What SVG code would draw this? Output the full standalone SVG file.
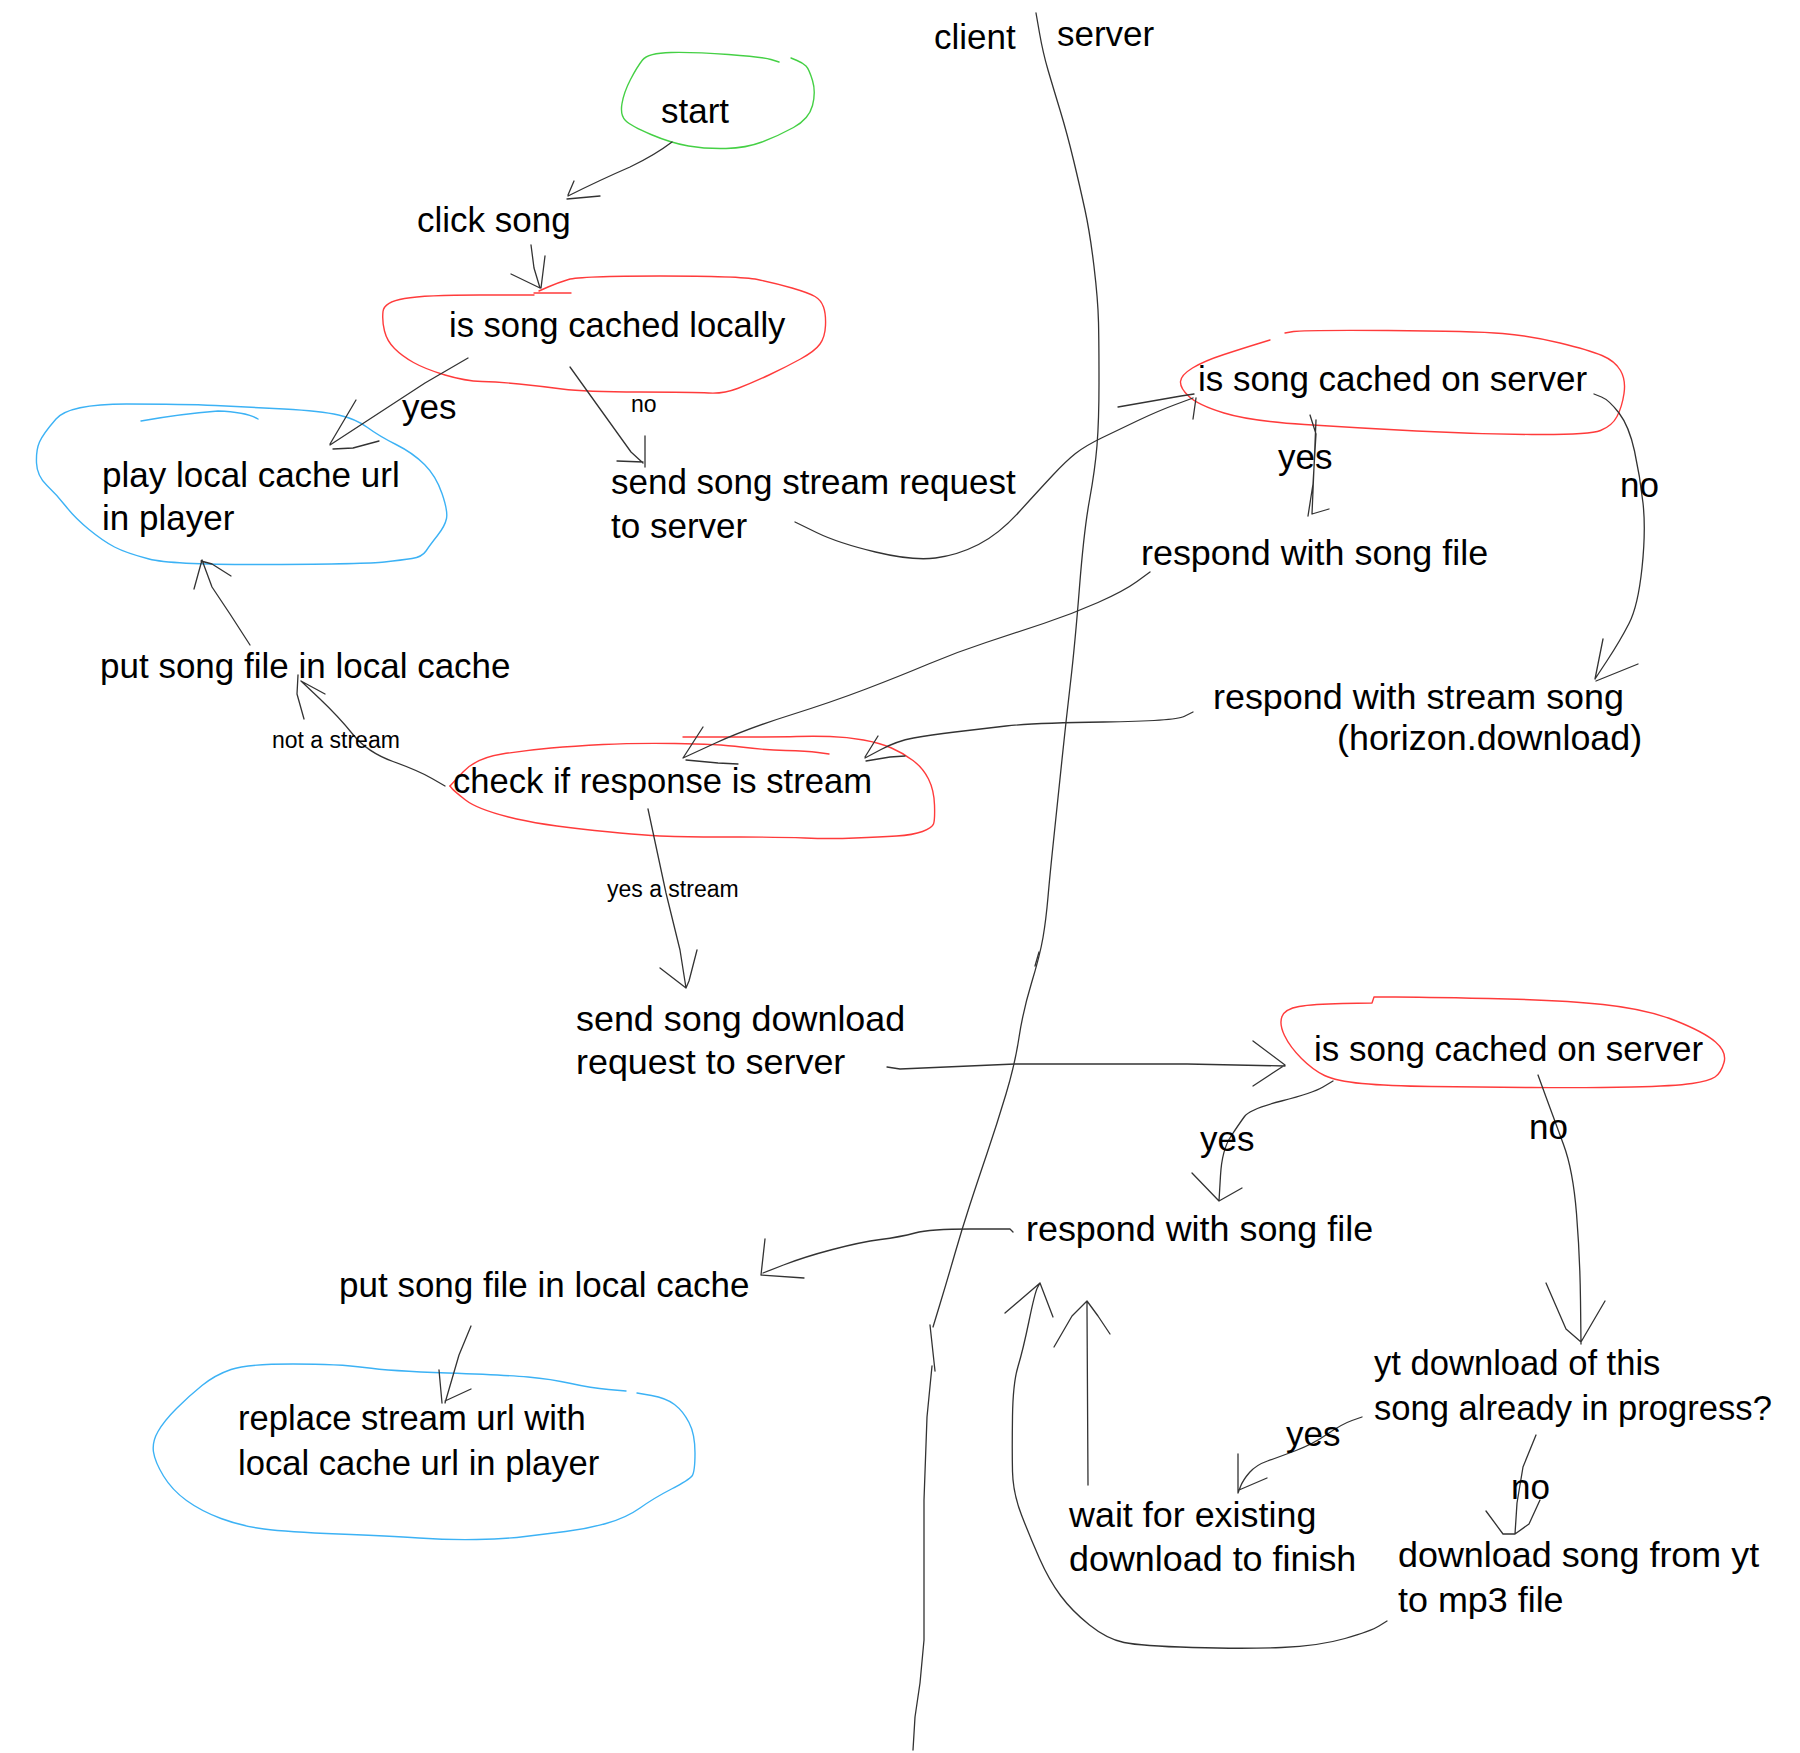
<svg xmlns="http://www.w3.org/2000/svg" width="1800" height="1753" viewBox="0 0 1800 1753">
<style>
.t{font-family:"Liberation Sans",Arial,sans-serif;font-size:35px;fill:#000}
.w{font-size:35.9px}
.n{font-size:34.6px}
.s{font-size:23px}
.c{fill:none;stroke:#333;stroke-width:1.3;stroke-linecap:round;stroke-linejoin:round}
.r{fill:none;stroke:#ff3b3b;stroke-width:1.4;stroke-linecap:round;stroke-linejoin:round}
.g{fill:none;stroke:#45d045;stroke-width:1.4;stroke-linecap:round;stroke-linejoin:round}
.b{fill:none;stroke:#3cb2f5;stroke-width:1.4;stroke-linecap:round;stroke-linejoin:round}
</style>
<rect width="1800" height="1753" fill="#fff"/>
<g id="divider">
<path class="c" d="M1036,13 L1039.5,33 Q1043,53 1048,70 Q1053,87 1060,110 Q1067,133 1073.5,160 Q1080,187 1085,210 Q1090,233 1094,266.5 Q1098,300 1098.5,322 Q1099,344 1099,382.5 Q1099,421 1097,445.5 Q1095,470 1089.5,500 Q1084,530 1079.5,587 Q1075,644 1070.5,682.5 Q1066,721 1062,759.5 Q1058,798 1054,836 Q1050,874 1048,897 Q1046,920 1043,937.5 Q1040,955 1031.5,983 Q1023,1011 1019,1037.5 Q1015,1064 1006,1094 Q997,1124 987,1153.5 Q977,1183 969.5,1206 Q962,1229 954.5,1255 Q947,1281 940,1304 L933,1327"/>
<path class="c" d="M1039,952 L1035,966"/>
<path class="c" d="M930,1325 L935,1371"/>
<path class="c" d="M932,1366 L927,1417 L924,1500 L924,1640 L920,1683 L915,1717 L913,1750"/>
<text class="t" x="934" y="49">client</text>
<text class="t" x="1057" y="46">server</text>
</g>
<g id="start">
<path class="g" d="M779,62 L771,59.5 Q763,57 728.5,54.5 Q694,52 671,52.5 Q648,53 642.5,60 Q637,67 630.5,79.5 Q624,92 622,103.5 Q620,115 625.5,120.5 Q631,126 651,134.5 Q671,143 688.5,146 Q706,149 726,148.5 Q746,148 762,142 Q778,136 793.5,127.5 Q809,119 812.5,105.5 Q816,92 812.5,80.5 Q809,69 806,66 Q803,63 797,60.5 L791,58"/>
<text class="t" x="661" y="123">start</text>
</g>
<g id="click-song">
<text class="t" x="417" y="232">click song</text>
</g>
<g id="cached-locally">
<path class="r" d="M571,293 L534,293"/>
<path class="r" d="M534,295 L479.5,295 Q425,295 404.5,298.5 Q384,302 383,311.5 Q382,321 384.5,331 Q387,341 394.5,348.5 Q402,356 413.5,362.5 Q425,369 445,375 Q465,381 482,381.5 Q499,382 519,384 Q539,386 562,389 Q585,392 639.5,392 Q694,392 708.5,393 Q723,394 737.5,388.5 Q752,383 769,375 Q786,367 800.5,359 Q815,351 820,344 Q825,337 825.5,325.5 Q826,314 823.5,307 Q821,300 815,296.5 Q809,293 792,288 Q775,283 757.5,279.5 Q740,276 660,276 Q580,276 568.5,279.5 Q557,283 548,287 L539,291"/>
<text class="t n" x="449" y="337">is song cached locally</text>
</g>
<g id="play-local">
<path class="b" d="M126.5,404 Q184,404 215.5,405.5 Q247,407 284,409 Q321,411 338.5,415 Q356,419 367.5,427.5 Q379,436 396,444.5 Q413,453 424.5,464.5 Q436,476 442,493.5 Q448,511 446.5,518.5 Q445,526 437.5,535.5 Q430,545 426,551 Q422,557 412,558.5 Q402,560 384.5,562 Q367,564 269.5,564.5 Q172,565 149,559 Q126,553 114.5,547 Q103,541 89,529.5 Q75,518 66,506.5 Q57,495 47,485.5 Q37,476 36.5,463 Q36,450 39.5,442 Q43,434 56,419 Q69,404 126.5,404 Z"/>
<path class="b" d="M141,421 Q180,414 218,411 Q247,412 258,419"/>
<text class="t" x="102" y="487">play local cache url</text>
<text class="t" x="102" y="530">in player</text>
</g>
<g id="send-stream">
<text class="t" x="611" y="494">send song stream request</text>
<text class="t" x="611" y="538">to server</text>
</g>
<g id="server-cached-1">
<path class="r" d="M1270,340 L1257,344 Q1244,348 1224,354.5 Q1204,361 1192.5,368 Q1181,375 1180.5,381.5 Q1180,388 1189,396.5 Q1198,405 1224,413 Q1250,421 1304.5,424.5 Q1359,428 1416.5,431 Q1474,434 1531.5,434.5 Q1589,435 1600.5,430.5 Q1612,426 1617,416.5 Q1622,407 1624,393.5 Q1626,380 1620.5,370.5 Q1615,361 1602,355.5 Q1589,350 1560,343 Q1531,336 1502.5,333.5 Q1474,331 1388,330.5 Q1302,330 1293.5,331.5 L1285,333"/>
<text class="t" x="1198" y="391">is song cached on server</text>
</g>
<g id="respond-file-1">
<text class="t w" x="1141" y="565">respond with song file</text>
</g>
<g id="respond-stream">
<text class="t w" x="1213" y="709">respond with stream song</text>
<text class="t w" x="1337" y="750">(horizon.download)</text>
</g>
<g id="put-cache-1">
<text class="t" x="100" y="678">put song file in local cache</text>
</g>
<g id="check-stream">
<path class="r" d="M450,786 L463,772 Q476,758 502,754 Q528,750 551,748 Q574,746 603,744.5 Q632,743 675,743.5 Q718,744 741,747 Q764,750 785.5,750.5 Q807,751 818,752.5 L829,754"/>
<path class="r" d="M683,737 L731.5,737 Q780,737 796.5,736.5 Q813,736 830,736.5 Q847,737 863.5,740 Q880,743 891.5,748 Q903,753 913,760.5 Q923,768 928.5,779 Q934,790 934.5,805 Q935,820 933.5,824 Q932,828 922.5,831.5 Q913,835 896.5,836 Q880,837 855,838 Q830,839 805,838 Q780,837 740,837 Q700,837 674.5,836.5 Q649,836 594.5,830.5 Q540,825 508.5,817 Q477,809 465.5,800 Q454,791 452,788.5 L450,786"/>
<text class="t n" x="453" y="793">check if response is stream</text>
</g>
<g id="send-download">
<text class="t w" x="576" y="1031">send song download</text>
<text class="t w" x="576" y="1074">request to server</text>
</g>
<g id="server-cached-2">
<path class="r" d="M1374,997 L1372,1003 L1342.5,1003.5 Q1313,1004 1299,1006.5 Q1285,1009 1282,1016.5 Q1279,1024 1284.5,1035.5 Q1290,1047 1301.5,1058.5 Q1313,1070 1324.5,1075.5 Q1336,1081 1362,1083.5 Q1388,1086 1431,1086.5 Q1474,1087 1531.5,1087.5 Q1589,1088 1632,1087 Q1675,1086 1692,1083.5 Q1709,1081 1715,1077 Q1721,1073 1724,1062.5 Q1727,1052 1715.5,1042 Q1704,1032 1675,1020.5 Q1646,1009 1603,1004.5 Q1560,1000 1488.5,998.5 Q1417,997 1395.5,997 L1374,997"/>
<text class="t" x="1314" y="1061">is song cached on server</text>
</g>
<g id="respond-file-2">
<text class="t w" x="1026" y="1241">respond with song file</text>
</g>
<g id="put-cache-2">
<text class="t" x="339" y="1297">put song file in local cache</text>
</g>
<g id="replace-url">
<path class="b" d="M637,1393 L651.5,1395.5 Q666,1398 674.5,1404.5 Q683,1411 689,1422.5 Q695,1434 695,1453 Q695,1472 692,1476 Q689,1480 671.5,1489 Q654,1498 640,1508 Q626,1518 606,1523.5 Q586,1529 565.5,1531.5 Q545,1534 525,1536.5 Q505,1539 476.5,1539.5 Q448,1540 419,1538 Q390,1536 338.5,1534 Q287,1532 264,1529 Q241,1526 221,1518.5 Q201,1511 186.5,1500.5 Q172,1490 163.5,1476 Q155,1462 153.5,1452 Q152,1442 158,1431.5 Q164,1421 176.5,1408.5 Q189,1396 202,1385.5 Q215,1375 231,1369.5 Q247,1364 293,1364 Q339,1364 364.5,1367.5 Q390,1371 447.5,1373 Q505,1375 528,1377 Q551,1379 571,1383.5 Q591,1388 608.5,1389.5 L626,1391"/>
<text class="t n" x="238" y="1430">replace stream url with</text>
<text class="t n" x="238" y="1475">local cache url in player</text>
</g>
<g id="yt-progress">
<text class="t n" x="1374" y="1375">yt download of this</text>
<text class="t n" x="1374" y="1420">song already in progress?</text>
</g>
<g id="wait-existing">
<text class="t w" x="1069" y="1527">wait for existing</text>
<text class="t w" x="1069" y="1571">download to finish</text>
</g>
<g id="download-yt">
<text class="t w" x="1398" y="1567">download song from yt</text>
<text class="t w" x="1398" y="1612">to mp3 file</text>
</g>
<g id="connectors">
<path class="c" d="M672,142 Q655,155 630,167 Q600,180 568,196 M574,181 L568,195 M567,199 L600,196"/>
<path class="c" d="M531,245 L534,268 L540,288 M545,256 L541,288 M511,274 L540,288"/>
<path class="c" d="M468,358 L425,383 L402,398 L330,445 M356,400 L330,444 M333,449 L353,448 L379,441"/>
<path class="c" d="M570,367 L603,413 L631,452 L643,463 M645,436 L645,467 M617,461 L643,462"/>
<path class="c" d="M795,522 L816.5,532.5 Q838,543 875.5,552 Q913,561 935.5,558 Q958,555 978.5,544.5 Q999,534 1019,512 Q1039,490 1052.5,475.5 Q1066,461 1075.5,453.5 Q1085,446 1101.5,438 Q1118,430 1138,420.5 Q1158,411 1175.5,404.5 L1193,398 M1118,407 L1181,396 L1194,394 M1196,398 L1193,419"/>
<path class="c" d="M1310,415 L1316,434 L1313,484 L1308,516 M1316,420 L1312,514 M1329,509 L1312,514"/>
<path class="c" d="M1594,394 L1601.5,397 Q1609,400 1619,413 Q1629,426 1634.5,451 Q1640,476 1643,503 Q1646,530 1642,568 Q1638,606 1629,623.5 Q1620,641 1607.5,660 L1595,679 M1603,639 L1595,679 M1596,681 L1638,664"/>
<path class="c" d="M1150,572 L1137,581.5 Q1124,591 1098,602.5 Q1072,614 1043.5,623.5 Q1015,633 986,642.5 Q957,652 928.5,664 Q900,676 866,689 Q832,702 789,715.5 Q746,729 714.5,743.5 L683,758 M703,727 L683,758 M686,760 L718,763 L738,764"/>
<path class="c" d="M1193,712 L1184,716.5 Q1175,721 1103.5,722 Q1032,723 1006,726 Q980,729 955,732 Q930,735 913.5,738 Q897,741 881,749.5 L865,758 M878,736 L865,757 M866,761 L890,757 L905,756"/>
<path class="c" d="M445,786 L432,778.5 Q419,771 393,761.5 Q367,752 353,734.5 Q339,717 320,699 L301,681 M298,675 L297,694 L304,719 M301,681 L325,694"/>
<path class="c" d="M250,645 L230,614 L212,587 L202,560 M194,589 L202,560 M201,561 L212,564 L231,576"/>
<path class="c" d="M648,809 L666,893 L680,950 L686,988 M697,950 L689,981 L686,988 M660,968 L686,988"/>
<path class="c" d="M887,1067 L900,1069 L1015,1064 L1187,1064 L1285,1066 M1253,1041 L1285,1065 L1253,1086"/>
<path class="c" d="M1333,1081 L1323,1087 Q1313,1093 1281.5,1101 Q1250,1109 1244.5,1116.5 Q1239,1124 1230.5,1137 Q1222,1150 1220.5,1175.5 L1219,1201 M1192,1173 L1219,1201 L1242,1188"/>
<path class="c" d="M1538,1075 L1546,1097 Q1554,1119 1563.5,1144.5 Q1573,1170 1576.5,1213.5 Q1580,1257 1580.5,1300.5 L1581,1344 M1546,1283 L1566,1329 L1581,1342 L1605,1301"/>
<path class="c" d="M1013,1232 L1010,1229 L970,1229 Q930,1229 915,1233 Q900,1237 880.5,1239.5 Q861,1242 832.5,1249.5 Q804,1257 783.5,1265 L763,1273 M765,1239 L761,1275 L804,1278"/>
<path class="c" d="M471,1326 L459,1355 L445,1403 M439,1370 L442,1403 M445,1401 L471,1389"/>
<path class="c" d="M1362,1417 L1352,1420.5 Q1342,1424 1327.5,1434 Q1313,1444 1296,1450.5 Q1279,1457 1267.5,1461 Q1256,1465 1249.5,1472.5 Q1243,1480 1240.5,1486.5 L1238,1493 M1238,1454 L1238,1493 M1239,1490 L1267,1478"/>
<path class="c" d="M1536,1435 L1523,1467 L1517,1503 L1515,1534 M1540,1500 L1529,1524 L1515,1534 M1486,1511 L1503,1534 L1515,1534"/>
<path class="c" d="M1088,1485 L1087,1308 L1087,1301 M1054,1347 L1072,1316 L1087,1301 L1098,1316 L1110,1334"/>
<path class="c" d="M1387,1621 L1379,1626 Q1371,1631 1345,1638.5 Q1319,1646 1281.5,1647.5 Q1244,1649 1192.5,1647.5 Q1141,1646 1124,1642.5 Q1107,1639 1089.5,1625 Q1072,1611 1060.5,1595.5 Q1049,1580 1039.5,1558.5 Q1030,1537 1021.5,1515 Q1013,1493 1012.5,1471.5 Q1012,1450 1012.5,1416.5 Q1013,1383 1018,1366.5 Q1023,1350 1029,1321 Q1035,1292 1037.5,1287.5 L1040,1283 M1005,1313 L1040,1283 L1053,1317"/>
<text class="t" x="402" y="419">yes</text>
<text class="t s" x="631" y="412">no</text>
<text class="t" x="1278" y="469">yes</text>
<text class="t" x="1620" y="497">no</text>
<text class="t s" x="272" y="748">not a stream</text>
<text class="t s" x="607" y="897">yes a stream</text>
<text class="t" x="1200" y="1151">yes</text>
<text class="t" x="1529" y="1139">no</text>
<text class="t" x="1286" y="1446">yes</text>
<text class="t" x="1511" y="1499">no</text>
</g>
</svg>
